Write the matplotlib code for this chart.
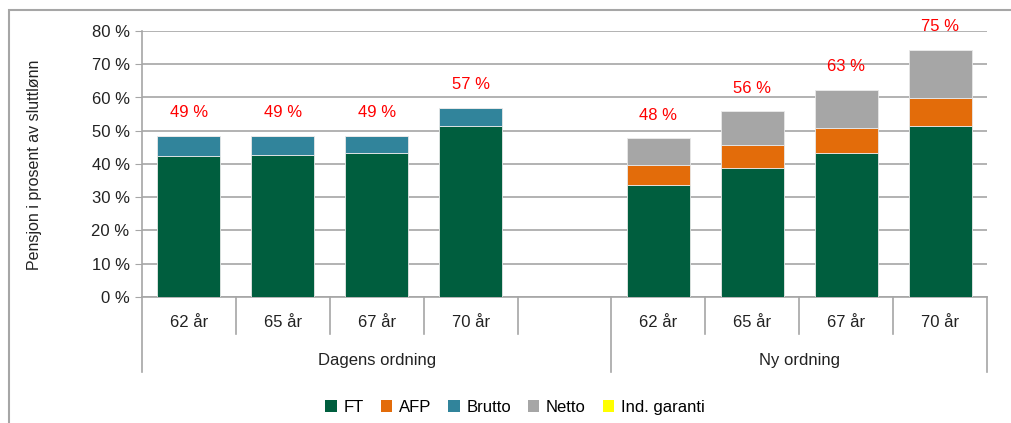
#!/usr/bin/env python3

import matplotlib
matplotlib.use("Agg")
import matplotlib.pyplot as plt
from matplotlib.patches import Rectangle, Patch
from matplotlib.ticker import FuncFormatter


# Data (percent of final salary), 9 slots: 4 Dagens + 1 empty + 4 Ny
CATEGORIES = ["62 år", "65 år", "67 år", "70 år", "", "62 år", "65 år", "67 år", "70 år"]
GROUPS = ["Dagens ordning", "Ny ordning"]
GROUP_SIZES = [5, 4]
FT = [42.3, 42.7, 43.3, 51.3, 0, 33.7, 38.9, 43.3, 51.3]
AFP = [0, 0, 0, 0, 0, 6.0, 6.8, 7.6, 8.6]
BRUTTO = [6.2, 5.8, 5.2, 5.5, 0, 0, 0, 0, 0]
NETTO = [0, 0, 0, 0, 0, 8.0, 10.1, 11.3, 14.5]
IND_GARANTI = [0, 0, 0, 0, 0, 0, 0, 0, 0]
TOTAL_LABELS = ["49 %", "49 %", "49 %", "57 %", "", "48 %", "56 %", "63 %", "75 %"]

SERIES = [
    ("FT", FT, "#005E3E"),
    ("AFP", AFP, "#E36C0A"),
    ("Brutto", BRUTTO, "#31849B"),
    ("Netto", NETTO, "#A6A6A6"),
    ("Ind. garanti", IND_GARANTI, "#FFFF00"),
]

GRID = "#A6A6A6"
FONT = ["Liberation Sans Narrow", "Liberation Sans", "DejaVu Sans"]

plt.rcParams["font.family"] = FONT

fig = plt.figure(figsize=(10.11, 4.23), dpi=100)
ax = fig.add_axes([142 / 1011, 1 - 297 / 423, (987 - 142) / 1011, (297 - 31) / 423])

x = list(range(len(CATEGORIES)))
bottom = [0.0] * len(x)
for name, vals, color in SERIES:
    ax.bar(x, vals, 0.67, bottom=bottom, color=color, edgecolor="#E8E8E8",
           linewidth=0.6, label=name, zorder=3)
    bottom = [b + v for b, v in zip(bottom, vals)]

for xi, tot, lab in zip(x, bottom, TOTAL_LABELS):
    if lab:
        ax.text(xi, tot + 7, lab, ha="center", va="center", color="#FF0000",
                fontsize=12, clip_on=False, zorder=4)

ax.set_xlim(-0.5, len(x) - 0.5)
ax.set_ylim(0, 80)
ax.set_yticks(range(0, 81, 10))
ax.yaxis.set_major_formatter(FuncFormatter(lambda v, p: f"{int(v)} %"))
ax.tick_params(axis="y", length=5, color=GRID, labelsize=12, labelcolor="#222222", pad=4)
ax.set_xticks([])
ax.grid(axis="y", color=GRID, linewidth=1.2, zorder=0)
for s in ["top", "right"]:
    ax.spines[s].set_visible(False)
for s in ["left", "bottom"]:
    ax.spines[s].set_color(GRID)
    ax.spines[s].set_linewidth(1.2)

# multi-level category axis
trans = ax.get_xaxis_transform()
y0 = 0.0
y_year = -(334 - 297) / (297 - 31)
y_group = -(372 - 297) / (297 - 31)
for xi, cat in zip(x, CATEGORIES):
    ax.text(xi, -(322 - 297) / (297 - 31), cat, transform=trans, ha="center",
            va="center", fontsize=12, color="#222222")
group_edges = [-0.5]
for g in GROUP_SIZES:
    group_edges.append(group_edges[-1] + g)
for i in range(len(x) + 1):
    xe = i - 0.5
    yb = y_group if xe in group_edges else y_year
    ax.plot([xe, xe], [y0, yb], transform=trans, color=GRID, linewidth=1.2,
            clip_on=False, zorder=2)
for gname, a, b in zip(GROUPS, group_edges[:-1], group_edges[1:]):
    ax.text((a + b) / 2, -(360 - 297) / (297 - 31), gname, transform=trans,
            ha="center", va="center", fontsize=12, color="#222222")

fig.text(35 / 1011, 1 - 165 / 423, "Pensjon i prosent av sluttlønn", rotation=90,
         ha="center", va="center", fontsize=11.5, color="#222222")

handles = [Patch(facecolor=c, label=n) for n, _, c in SERIES]
fig.legend(handles=handles, loc="center", bbox_to_anchor=(515 / 1011, 1 - 407 / 423),
           ncol=5, frameon=False, fontsize=12, handlelength=0.7, handleheight=0.7,
           handletextpad=0.4, columnspacing=1.0)

# outer chart frame (right and bottom edges cut off in the reference)
fig.patches.append(Rectangle((9 / 1011, -0.2), 1.2, 1.2 - 10 / 423, transform=fig.transFigure,
                             fill=False, edgecolor="#A6A6A6", linewidth=1.5))

fig.savefig("out.png", dpi=100)
